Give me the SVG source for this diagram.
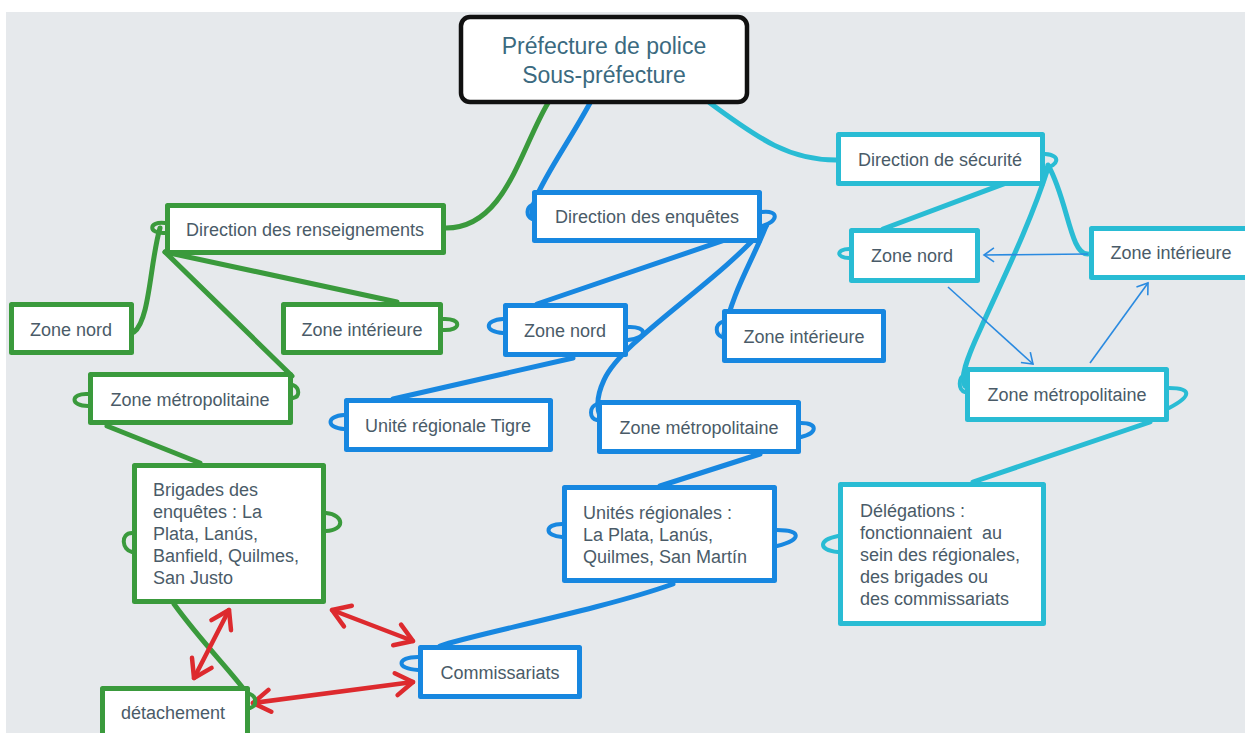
<svg xmlns="http://www.w3.org/2000/svg" width="1245" height="733" viewBox="0 0 1245 733">
<defs>
<style>
.bg{fill:#e6e9ec}
.box{fill:#fff;stroke-width:5;stroke-linejoin:round}
.g{stroke:#3a9a3c}
.b{stroke:#1787e0}
.c{stroke:#29bcd4}
.con{fill:none;stroke-width:5;stroke-linecap:round;stroke-linejoin:round}
.knot{fill:none;stroke-width:4;stroke-linecap:round}
.thin{fill:none;stroke:#2a8ae0;stroke-width:1.6}
.red{fill:none;stroke:#dd2a2e;stroke-width:4.5;stroke-linecap:round}
.t{font-family:"Liberation Sans",Arial,sans-serif;font-size:18px;fill:#4a5b68}
.root{font-family:"Liberation Sans",Arial,sans-serif;font-size:23px;fill:#3b6a80}
</style>
<marker id="ah" viewBox="-12 -10 14 20" markerWidth="14" markerHeight="20" refX="0" refY="0" orient="auto" markerUnits="userSpaceOnUse">
<path d="M-10,-7 L0,0 L-10,7" fill="none" stroke="#2a8ae0" stroke-width="1.6"/>
</marker>
<marker id="rh" viewBox="-22 -15 25 30" markerWidth="25" markerHeight="30" refX="0" refY="0" orient="auto-start-reverse" markerUnits="userSpaceOnUse">
<path d="M-17,-11 L0,0 L-17,11" fill="none" stroke="#dd2a2e" stroke-width="4.5" stroke-linecap="round" stroke-linejoin="round"/>
</marker>
</defs>
<rect x="0" y="0" width="1245" height="733" fill="#ffffff"/>
<rect class="bg" x="6" y="12" width="1239" height="721"/>

<g id="connectors">
<!-- green -->
<path class="con g" d="M548,103 C520,150 505,228 446,228"/>
<path class="con g" d="M160,228 C150,262 150,320 134,332"/>
<path class="con g" d="M165,252 L397,302"/>
<path class="con g" d="M165,252 L292,376"/>
<path class="con g" d="M107,426 L200,463"/>
<path class="con g" d="M174,604 C200,640 228,668 246,692"/>
<!-- blue -->
<path class="con b" d="M590,103 C570,140 545,175 536,198 C531,208 531,214 533,218"/>
<path class="con b" d="M766,226 L537,304"/>
<path class="con b" d="M766,226 C752,262 732,292 724,334"/>
<path class="con b" d="M766,226 C715,285 622,340 604,380 C597,395 596,406 600,416"/>
<path class="con b" d="M573,358 L393,399"/>
<path class="con b" d="M760,454 L660,486"/>
<path class="con b" d="M673,584 C600,610 470,635 440,646"/>
<!-- cyan -->
<path class="con c" d="M710,103 C760,140 790,160 836,160"/>
<path class="con c" d="M1046,168 L883,229"/>
<path class="con c" d="M1048,165 C1068,200 1070,255 1088,254"/>
<path class="con c" d="M1048,168 C1030,225 1000,285 980,330 C966,360 960,378 965,386"/>
<path class="con c" d="M1150,422 L973,482"/>
<!-- thin arrows -->
<path class="thin" d="M1088,254 L984,255" marker-end="url(#ah)"/>
<path class="thin" d="M948,287 L1033,364" marker-end="url(#ah)"/>
<path class="thin" d="M1090,363 L1148,283" marker-end="url(#ah)"/>
<!-- red double arrows -->
<path class="red" d="M229,610 L194,678" marker-start="url(#rh)" marker-end="url(#rh)"/>
<path class="red" d="M332,610 L413,641" marker-start="url(#rh)" marker-end="url(#rh)"/>
<path class="red" d="M253,703 L413,682" marker-start="url(#rh)" marker-end="url(#rh)"/>
<!-- knots -->
<g class="knot g">
<path d="M165,223 C148,221 148,234 165,233"/>
<path d="M443,319 C462,318 462,331 443,330"/>
<path d="M88,394 C70,393 70,406 88,406"/>
<path d="M293,385 C300,388 300,397 293,398"/>
<path d="M132,533 C120,533 122,550 132,552"/>
<path d="M326,513 C345,515 345,530 326,531"/>
<path d="M250,694 C257,697 257,706 250,708"/>
</g>
<g class="knot b">
<path d="M532,205 C526,208 526,216 532,219"/>
<path d="M762,212 C780,210 778,222 762,226"/>
<path d="M503,319 C484,320 484,332 503,333"/>
<path d="M628,327 C648,326 648,338 628,340"/>
<path d="M722,322 C715,325 715,334 722,337"/>
<path d="M344,415 C326,416 326,428 344,429"/>
<path d="M597,404 C589,407 589,418 597,420"/>
<path d="M801,423 C818,423 818,433 801,437"/>
<path d="M562,524 C544,524 544,536 562,537"/>
<path d="M777,530 C802,530 802,540 777,546"/>
<path d="M418,657 C396,657 396,669 418,670"/>
</g>
<g class="knot c">
<path d="M1045,154 C1062,155 1058,166 1045,168"/>
<path d="M849,249 C836,249 836,258 849,258"/>
<path d="M965,374 C958,378 958,390 965,392"/>
<path d="M1169,388 C1192,388 1192,396 1169,408"/>
<path d="M838,536 C818,540 818,550 838,552"/>
</g>
</g>

<g id="root">
<rect x="461" y="17" width="286" height="85" rx="9" fill="#fff" stroke="#111" stroke-width="4.5"/>
<text class="root" x="604" y="54" text-anchor="middle">Préfecture de police</text>
<text class="root" x="604" y="83" text-anchor="middle">Sous-préfecture</text>
</g>

<g id="dir-renseignements"><rect class="box g" x="167.5" y="205.5" width="276" height="47"/><text class="t" x="305" y="236" text-anchor="middle">Direction des renseignements</text></g>
<g id="g-zone-nord"><rect class="box g" x="11.5" y="304.5" width="120" height="48"/><text class="t" x="71" y="336" text-anchor="middle">Zone nord</text></g>
<g id="g-zone-interieure"><rect class="box g" x="283.5" y="304.5" width="157" height="48"/><text class="t" x="362" y="336" text-anchor="middle">Zone intérieure</text></g>
<g id="g-zone-metro"><rect class="box g" x="90.5" y="374.5" width="200" height="48"/><text class="t" x="190" y="406" text-anchor="middle">Zone métropolitaine</text></g>
<g id="brigades"><rect class="box g" x="134.5" y="465.5" width="189" height="136"/>
<text class="t" x="153" y="496">Brigades des</text>
<text class="t" x="153" y="518">enquêtes : La</text>
<text class="t" x="153" y="540">Plata, Lanús,</text>
<text class="t" x="153" y="562">Banfield, Quilmes,</text>
<text class="t" x="153" y="584">San Justo</text></g>
<g id="detachement"><rect class="box g" x="102.5" y="688.5" width="145" height="60"/><text class="t" x="173" y="719" text-anchor="middle">détachement</text></g>

<g id="dir-enquetes"><rect class="box b" x="534.5" y="192.5" width="225" height="48"/><text class="t" x="647" y="223" text-anchor="middle">Direction des enquêtes</text></g>
<g id="b-zone-nord"><rect class="box b" x="505.5" y="305.5" width="120" height="49"/><text class="t" x="565" y="337" text-anchor="middle">Zone nord</text></g>
<g id="b-zone-interieure"><rect class="box b" x="724.5" y="311.5" width="159" height="49"/><text class="t" x="804" y="343" text-anchor="middle">Zone intérieure</text></g>
<g id="tigre"><rect class="box b" x="346.5" y="400.5" width="204" height="49"/><text class="t" x="448" y="432" text-anchor="middle">Unité régionale Tigre</text></g>
<g id="b-zone-metro"><rect class="box b" x="599.5" y="402.5" width="199" height="49"/><text class="t" x="699" y="434" text-anchor="middle">Zone métropolitaine</text></g>
<g id="unites-regionales"><rect class="box b" x="564.5" y="487.5" width="210" height="93"/>
<text class="t" x="583" y="519">Unités régionales :</text>
<text class="t" x="583" y="541">La Plata, Lanús,</text>
<text class="t" x="583" y="563">Quilmes, San Martín</text></g>
<g id="commissariats"><rect class="box b" x="420.5" y="647.5" width="159" height="49"/><text class="t" x="500" y="679" text-anchor="middle">Commissariats</text></g>

<g id="dir-securite"><rect class="box c" x="838.5" y="134.5" width="204" height="49"/><text class="t" x="940" y="166" text-anchor="middle">Direction de sécurité</text></g>
<g id="c-zone-nord"><rect class="box c" x="851.5" y="230.5" width="126" height="50"/><text class="t" x="912" y="262" text-anchor="middle">Zone nord</text></g>
<g id="c-zone-interieure"><rect class="box c" x="1091.5" y="228.5" width="160" height="49"/><text class="t" x="1171" y="259" text-anchor="middle">Zone intérieure</text></g>
<g id="c-zone-metro"><rect class="box c" x="967.5" y="369.5" width="199" height="50"/><text class="t" x="1067" y="401" text-anchor="middle">Zone métropolitaine</text></g>
<g id="delegations"><rect class="box c" x="840.5" y="484.5" width="203" height="139"/>
<text class="t" x="860" y="517">Délégations :</text>
<text class="t" x="860" y="539" xml:space="preserve">fonctionnaient  au</text>
<text class="t" x="860" y="561">sein des régionales,</text>
<text class="t" x="860" y="583">des brigades ou</text>
<text class="t" x="860" y="605">des commissariats</text></g>
</svg>
